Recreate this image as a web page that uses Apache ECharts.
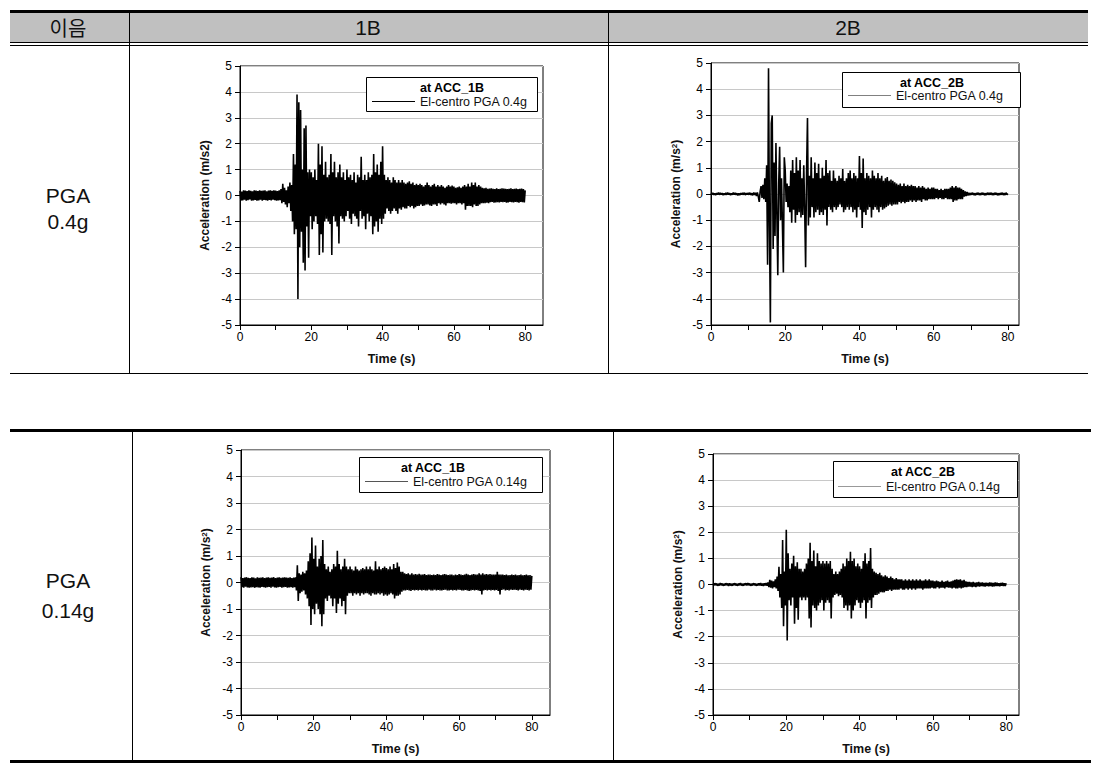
<!DOCTYPE html>
<html>
<head>
<meta charset="utf-8">
<script src="https://cdn.jsdelivr.net/npm/echarts@6/dist/echarts.min.js"></script>
<style>
html,body{margin:0;padding:0;background:#fff;}
#c{width:1120px;height:775px;}
</style>
</head>
<body>
<div id="c"></div>
<script>
// ---------------- data ----------------
// sample step of the digitised traces (s); value i is at time i*dt
const dt = 0.25;
const timeTicks = [0, 10, 20, 30, 40, 50, 60, 70, 80];
const timeLabels = [0, 20, 40, 60, 80];
const accTicks = [-5, -4, -3, -2, -1, 0, 1, 2, 3, 4, 5];

const headerLabels = ['이음', '1B', '2B'];
const rowLabels = [['PGA', '0.4g'], ['PGA', '0.14g']];
const sensorTitles = ['at ACC_1B', 'at ACC_2B', 'at ACC_1B', 'at ACC_2B'];
const seriesNames = ['El-centro PGA 0.4g', 'El-centro PGA 0.4g', 'El-centro PGA 0.14g', 'El-centro PGA 0.14g'];

// ACC_1B, PGA 0.4g  (one row = 5 s)
const acc1B_04 = [
  0.18,-0.2,0.15,-0.19,0.2,-0.16,0.19,-0.2,0.17,-0.18, 0.2,-0.15,0.18,-0.2,0.16,-0.19,0.2,-0.17,0.19,-0.2,
  0.17,-0.19,0.2,-0.16,0.18,-0.2,0.19,-0.17,0.2,-0.18, 0.16,-0.2,0.19,-0.17,0.2,-0.19,0.18,-0.16,0.2,-0.18,
  0.19,-0.2,0.17,-0.19,0.2,-0.18,0.25,-0.3,0.45,-0.25, 0.3,-0.35,0.2,-0.45,0.35,-0.3,0.5,-0.6,0.4,-1.0,
  1.6,-1.5,1.2,-1.3,3.9,-4.0,3.6,-2.0,3.3,-1.4, 1.0,-2.6,2.6,-2.9,2.7,-1.2,0.9,-2.4,1.0,-0.8,
  0.9,-1.3,0.7,-1.0,1.0,-0.8,0.6,-1.1,2.0,-2.3, 1.2,-1.5,1.9,-2.2,0.8,-1.0,1.3,-0.9,0.7,-1.0,
  0.8,-1.1,1.6,-2.3,0.9,-0.8,1.3,-1.0,0.7,-1.2, 0.9,-1.85,1.2,-0.8,0.7,-0.9,0.9,-1.0,0.6,-0.8,
  1.0,-0.6,0.7,-0.9,0.8,-1.1,0.6,-0.7,0.9,-0.8, 0.5,-0.9,0.8,-1.2,0.7,-0.6,1.5,-0.9,0.6,-0.8,
  0.8,-1.3,0.6,-0.7,0.9,-1.0,0.7,-0.8,0.8,-1.5, 1.6,-1.2,0.9,-1.0,1.2,-1.4,0.8,-0.9,1.3,-1.1,
  1.9,-0.9,0.8,-0.7,0.6,-0.5,0.7,-0.6,0.6,-0.7, 0.5,-0.6,0.7,-0.5,0.6,-0.6,0.5,-0.7,0.6,-0.5,
  0.5,-0.55,0.6,-0.45,0.5,-0.5,0.45,-0.5,0.5,-0.4, 0.55,-0.45,0.45,-0.4,0.5,-0.5,0.4,-0.45,0.45,-0.4,
  0.4,-0.4,0.45,-0.35,0.4,-0.4,0.35,-0.38,0.4,-0.35, 0.5,-0.35,0.4,-0.38,0.35,-0.4,0.4,-0.35,0.45,-0.35,
  0.35,-0.4,0.4,-0.3,0.35,-0.35,0.4,-0.3,0.35,-0.35, 0.3,-0.38,0.35,-0.3,0.4,-0.3,0.35,-0.32,0.38,-0.3,
  0.35,-0.3,0.3,-0.35,0.32,-0.3,0.35,-0.3,0.3,-0.35, 0.35,-0.3,0.4,-0.55,0.35,-0.4,0.45,-0.4,0.35,-0.4,
  0.5,-0.45,0.4,-0.35,0.5,-0.4,0.35,-0.4,0.4,-0.35, 0.35,-0.3,0.3,-0.3,0.28,-0.3,0.3,-0.28,0.26,-0.3,
  0.27,-0.26,0.28,-0.25,0.26,-0.28,0.25,-0.27,0.28,-0.26, 0.25,-0.27,0.26,-0.25,0.28,-0.26,0.27,-0.25,0.26,-0.28,
  0.25,-0.27,0.26,-0.25,0.28,-0.26,0.25,-0.27,0.26,-0.25, 0.27,-0.26,0.25,-0.28,0.26,-0.25,0.27,-0.26,0.25,-0.27,
  0.2
];
// ACC_2B, PGA 0.4g
const acc2B_04 = [
  0.03,-0.02,0.04,-0.03,0.02,-0.04,0.03,-0.02,0.05,-0.03, 0.04,-0.02,0.03,-0.04,0.02,-0.03,0.04,-0.03,0.05,-0.02,
  0.03,-0.04,0.02,-0.03,0.05,-0.02,0.04,-0.03,0.03,-0.05, 0.02,-0.04,0.03,-0.02,0.04,-0.03,0.05,-0.04,0.03,-0.02,
  0.04,-0.03,0.05,-0.04,0.03,-0.05,0.06,-0.04,0.05,-0.08, 0.06,-0.1,-0.3,0.1,0.3,-0.15,0.35,-0.2,0.6,-0.3,
  1.1,-2.7,4.8,-1.2,-4.9,2.7,3.0,-2.1,1.2,-1.6, 1.95,-0.8,-3.1,0.4,1.8,-1.0,0.6,-1.2,-3.0,1.4,
  0.9,-0.3,0.4,-0.5,0.3,-0.7,0.9,-1.1,1.3,-0.6, 0.8,-1.1,1.4,-0.8,0.9,-0.7,1.3,-0.9,0.6,-0.8,
  1.1,-0.6,-2.8,0.8,2.9,-1.2,0.7,-0.9,1.4,-0.5, 0.6,-0.9,1.2,-0.7,0.8,-0.6,1.15,-0.8,0.6,-0.7,
  1.0,-0.8,0.7,-0.6,1.3,-1.2,0.8,-0.5,0.9,-0.6, 0.5,-0.7,0.9,-0.5,0.6,-0.6,0.5,-0.5,0.7,-0.4,
  0.6,-0.5,0.95,-0.7,0.5,-0.6,0.6,-0.5,0.8,-0.6, 0.9,-0.5,0.6,-0.7,0.8,-0.6,0.7,-0.9,0.6,-0.5,
  1.45,-0.6,0.8,-1.3,1.35,-0.7,0.6,-0.8,0.8,-0.6, 0.7,-0.5,0.6,-0.9,0.9,-0.6,0.7,-0.5,0.6,-0.6,
  0.8,-0.7,0.6,-0.5,0.7,-0.6,0.5,-0.55,0.6,-0.5, 0.65,-0.45,0.5,-0.4,0.55,-0.45,0.5,-0.4,0.45,-0.4,
  0.4,-0.4,0.35,-0.3,0.4,-0.35,0.3,-0.3,0.4,-0.35, 0.3,-0.3,0.35,-0.3,0.3,-0.25,0.35,-0.3,0.3,-0.25,
  0.3,-0.3,0.25,-0.25,0.3,-0.25,0.25,-0.3,0.3,-0.2, 0.25,-0.25,0.2,-0.25,0.25,-0.2,0.2,-0.2,0.25,-0.2,
  0.25,-0.2,0.2,-0.15,0.2,-0.2,0.15,-0.15,0.2,-0.2, 0.15,-0.2,0.2,-0.15,0.2,-0.2,0.2,-0.2,0.25,-0.2,
  0.3,-0.3,0.25,-0.25,0.3,-0.25,0.25,-0.2,0.25,-0.2, 0.2,-0.2,0.15,-0.1,0.1,-0.08,0.08,-0.06,0.05,-0.05,
  0.04,-0.03,0.05,-0.04,0.03,-0.05,0.04,-0.03,0.05,-0.04, 0.03,-0.04,0.05,-0.03,0.04,-0.05,0.03,-0.04,0.05,-0.03,
  0.04,-0.03,0.05,-0.04,0.03,-0.04,0.05,-0.03,0.04,-0.05, 0.03,-0.04,0.04,-0.03,0.05,-0.04,0.03,-0.04,0.05,-0.03,
  0.02
];
// ACC_1B, PGA 0.14g
const acc1B_014 = [
  0.2,-0.18,0.17,-0.2,0.19,-0.16,0.2,-0.19,0.18,-0.2, 0.17,-0.19,0.2,-0.18,0.19,-0.2,0.16,-0.18,0.2,-0.19,
  0.18,-0.2,0.19,-0.17,0.2,-0.18,0.17,-0.2,0.19,-0.18, 0.2,-0.17,0.18,-0.2,0.19,-0.16,0.2,-0.19,0.17,-0.2,
  0.19,-0.18,0.2,-0.17,0.18,-0.2,0.19,-0.18,0.2,-0.17, 0.19,-0.2,0.18,-0.19,0.2,-0.18,0.17,-0.2,0.19,-0.18,
  0.2,-0.3,0.65,-0.7,0.35,-0.4,0.3,-0.35,0.4,-0.3, 0.35,-0.45,0.45,-0.6,0.8,-0.9,1.1,-1.6,1.7,-1.0,
  0.9,-1.2,1.4,-0.8,0.6,-1.0,0.9,-1.2,1.0,-1.65, 1.6,-1.2,0.7,-0.6,0.5,-0.7,0.6,-0.5,0.4,-0.6,
  0.5,-0.9,0.7,-0.6,0.6,-1.15,1.2,-0.8,0.7,-0.6, 0.5,-0.9,0.6,-0.7,0.9,-1.2,0.6,-0.5,0.5,-0.4,
  0.6,-0.4,0.5,-0.5,0.45,-0.4,0.6,-0.45,0.5,-0.4, 0.45,-0.5,0.5,-0.4,0.55,-0.45,0.5,-0.4,0.6,-0.4,
  0.5,-0.45,0.6,-0.5,0.5,-0.4,0.45,-0.45,0.8,-0.45, 0.5,-0.4,0.6,-0.45,0.5,-0.4,0.55,-0.5,0.6,-0.45,
  0.55,-0.5,0.5,-0.45,0.6,-0.4,0.5,-0.45,0.7,-0.6, 0.55,-0.5,0.75,-0.5,0.6,-0.45,0.4,-0.35,0.4,-0.3,
  0.35,-0.3,0.32,-0.28,0.35,-0.3,0.3,-0.32,0.35,-0.28, 0.3,-0.3,0.32,-0.28,0.3,-0.3,0.33,-0.28,0.3,-0.3,
  0.3,-0.28,0.32,-0.3,0.28,-0.3,0.3,-0.27,0.3,-0.3, 0.28,-0.3,0.3,-0.27,0.28,-0.3,0.32,-0.28,0.3,-0.3,
  0.28,-0.3,0.3,-0.28,0.32,-0.27,0.3,-0.3,0.28,-0.3, 0.3,-0.28,0.3,-0.3,0.27,-0.28,0.3,-0.3,0.28,-0.27,
  0.32,-0.28,0.3,-0.3,0.28,-0.3,0.3,-0.28,0.33,-0.3, 0.3,-0.32,0.28,-0.3,0.3,-0.28,0.32,-0.3,0.3,-0.28,
  0.3,-0.3,0.35,-0.32,0.3,-0.45,0.35,-0.3,0.3,-0.28, 0.32,-0.3,0.3,-0.28,0.32,-0.3,0.3,-0.28,0.3,-0.3,
  0.3,-0.28,0.4,-0.32,0.3,-0.45,0.3,-0.28,0.3,-0.26, 0.28,-0.3,0.3,-0.28,0.27,-0.3,0.28,-0.27,0.3,-0.28,
  0.28,-0.27,0.3,-0.28,0.27,-0.3,0.28,-0.27,0.3,-0.28, 0.27,-0.3,0.28,-0.27,0.3,-0.28,0.27,-0.3,0.28,-0.27,
  0.25
];
// ACC_2B, PGA 0.14g
const acc2B_014 = [
  0.03,-0.04,0.05,-0.03,0.04,-0.05,0.03,-0.04,0.06,-0.03, 0.04,-0.05,0.03,-0.04,0.05,-0.03,0.04,-0.06,0.05,-0.04,
  0.03,-0.05,0.04,-0.03,0.05,-0.04,0.03,-0.05,0.04,-0.03, 0.06,-0.04,0.03,-0.05,0.04,-0.03,0.05,-0.04,0.06,-0.03,
  0.04,-0.05,0.03,-0.04,0.05,-0.03,0.04,-0.05,0.03,-0.04, 0.05,-0.04,0.06,-0.05,0.04,-0.06,0.05,-0.04,0.06,-0.05,
  0.08,-0.1,0.18,-0.12,0.15,-0.15,0.12,-0.1,0.2,-0.15, 0.3,-0.25,0.68,-0.5,0.4,-0.9,1.7,-1.6,0.5,-0.8,
  2.1,-2.15,1.2,-0.6,0.6,-0.8,0.8,-0.5,1.1,-1.5, 0.7,-0.9,0.85,-1.35,0.6,-0.5,0.6,-0.6,0.5,-0.5,
  0.6,-0.6,0.8,-0.5,1.0,-1.3,1.6,-1.65,0.9,-0.8, 1.3,-0.9,0.7,-1.0,1.2,-0.8,0.9,-0.7,0.8,-0.6,
  0.9,-1.0,0.8,-0.7,0.9,-0.6,0.8,-0.7,0.9,-1.3, 0.6,-0.5,0.4,-0.4,0.5,-0.35,0.4,-0.45,0.5,-0.4,
  0.6,-0.5,0.8,-0.9,0.7,-0.8,1.0,-1.0,0.9,-0.8, 1.25,-1.3,0.9,-1.0,1.0,-0.8,0.7,-0.6,0.8,-0.7,
  0.7,-0.9,0.6,-0.7,0.9,-0.6,1.2,-1.3,0.8,-0.7, 0.9,-0.6,1.4,-0.9,0.6,-0.5,0.5,-0.4,0.45,-0.4,
  0.4,-0.35,0.45,-0.3,0.35,-0.3,0.3,-0.3,0.35,-0.25, 0.3,-0.25,0.25,-0.2,0.3,-0.25,0.25,-0.2,0.2,-0.2,
  0.25,-0.2,0.2,-0.2,0.2,-0.15,0.2,-0.2,0.15,-0.2, 0.2,-0.15,0.15,-0.2,0.2,-0.15,0.15,-0.2,0.2,-0.15,
  0.15,-0.2,0.2,-0.15,0.15,-0.15,0.2,-0.15,0.15,-0.2, 0.15,-0.15,0.2,-0.15,0.15,-0.15,0.2,-0.15,0.15,-0.12,
  0.15,-0.15,0.12,-0.15,0.15,-0.1,0.12,-0.15,0.1,-0.12, 0.15,-0.12,0.1,-0.15,0.12,-0.1,0.15,-0.12,0.1,-0.12,
  0.12,-0.15,0.15,-0.12,0.18,-0.15,0.2,-0.15,0.18,-0.12, 0.2,-0.15,0.15,-0.12,0.18,-0.1,0.12,-0.1,0.1,-0.08,
  0.1,-0.08,0.08,-0.1,0.1,-0.08,0.07,-0.1,0.08,-0.07, 0.1,-0.08,0.07,-0.06,0.08,-0.07,0.06,-0.08,0.07,-0.06,
  0.06,-0.07,0.08,-0.06,0.07,-0.08,0.06,-0.07,0.08,-0.06, 0.07,-0.06,0.05,-0.07,0.06,-0.05,0.07,-0.06,0.05,-0.06,
  0.05
];
const traces = [acc1B_04, acc2B_04, acc1B_014, acc2B_014];

// ---------------- layout (pixels) ----------------
const FONT = '"Liberation Sans", Arial, sans-serif';
const panels = [
  { grid: {left: 240, top: 66, width: 303, height: 259}, xMax: 85, sup: false,
    box: [366, 77, 171, 34], title: [452, 81], leg: [372, 102], legColor: '#000' },
  { grid: {left: 711, top: 63, width: 308, height: 262}, xMax: 83, sup: true,
    box: [842, 72, 178, 35], title: [932, 76], leg: [848, 96], legColor: '#808080' },
  { grid: {left: 241, top: 450, width: 309, height: 265}, xMax: 85, sup: true,
    box: [359, 457, 183, 35], title: [433, 461], leg: [365, 482], legColor: '#555' },
  { grid: {left: 713, top: 454, width: 306, height: 261}, xMax: 83.5, sup: true,
    box: [833, 461, 184, 36], title: [923, 465], leg: [838, 487], legColor: '#999' }
];

const chart = echarts.init(document.getElementById('c'), null, {renderer: 'svg'});

const grids = [], xAxes = [], yAxes = [], series = [], legends = [], titles = [], elements = [];

panels.forEach((p, k) => {
  grids.push(Object.assign({show: true, borderColor: '#000', borderWidth: 1, backgroundColor: 'transparent'}, p.grid));
  xAxes.push({
    type: 'value', gridIndex: k, min: 0, max: p.xMax, interval: 10,
    name: 'Time (s)', nameLocation: 'middle', nameGap: 27,
    nameTextStyle: {fontFamily: FONT, fontSize: 12.5, fontWeight: 'bold', color: '#111'},
    axisLine: {show: true, onZero: false, lineStyle: {color: '#000', width: 1}},
    axisTick: {show: true, inside: false, length: 5, customValues: timeTicks, lineStyle: {color: '#000'}},
    axisLabel: {show: true, margin: 6, fontFamily: FONT, fontSize: 12, color: '#000',
      customValues: timeLabels,
      formatter: v => (timeLabels.indexOf(v) >= 0 ? String(v) : '')},
    splitLine: {show: false}
  });
  yAxes.push({
    type: 'value', gridIndex: k, min: -5, max: 5, interval: 1,
    name: p.sup ? 'Acceleration (m/s{sup|2})' : 'Acceleration (m/s2)',
    nameLocation: 'middle', nameGap: 29, nameRotate: 90,
    nameTextStyle: {fontFamily: FONT, fontSize: 12, fontWeight: 'bold', color: '#111',
      rich: {sup: {fontFamily: FONT, fontSize: 8, fontWeight: 'bold', color: '#111', verticalAlign: 'top'}}},
    axisLine: {show: true, onZero: false, lineStyle: {color: '#000', width: 1}},
    axisTick: {show: true, inside: false, length: 5, lineStyle: {color: '#000'}},
    axisLabel: {show: true, margin: 8, fontFamily: FONT, fontSize: 12, color: '#000',
      formatter: v => (accTicks.indexOf(v) >= 0 ? String(v) : '')},
    splitLine: {show: true, lineStyle: {color: '#c8c8c8', width: 1}}
  });
  series.push({
    type: 'line', name: seriesNames[k], xAxisIndex: k, yAxisIndex: k,
    data: traces[k].map((v, i) => [i * dt, v]),
    showSymbol: false, symbol: 'none', silent: true, clip: true, sampling: false,
    lineStyle: {color: '#000', width: 1.6, join: 'bevel'},
    itemStyle: {color: '#000'},
    emphasis: {disabled: true}
  });
  legends.push({
    data: [{name: seriesNames[k], itemStyle: {color: p.legColor}, icon: 'rect'}],
    left: p.leg[0], top: p.leg[1] - 7, padding: 0,
    itemWidth: 43, itemHeight: 1, selectedMode: false,
    textStyle: {fontFamily: FONT, fontSize: 12.5, color: '#111', padding: [0, 0, 0, 0]}
  });
  titles.push({
    text: sensorTitles[k], left: p.title[0], top: p.title[1], textAlign: 'center', padding: 0,
    textStyle: {fontFamily: FONT, fontSize: 12.5, fontWeight: 'bold', color: '#000'}
  });
  elements.push({
    type: 'rect', z: 3, silent: true,
    shape: {x: p.box[0] + 0.5, y: p.box[1] + 0.5, width: p.box[2], height: p.box[3]},
    style: {fill: '#fff', stroke: '#000', lineWidth: 1}
  });
});

// ---------------- table frame ----------------
function hline(x1, x2, y, w) {
  elements.push({type: 'rect', z: 1, silent: true, shape: {x: x1, y: y, width: x2 - x1, height: w}, style: {fill: '#000'}});
}
function vline(x, y1, y2) {
  elements.push({type: 'rect', z: 1, silent: true, shape: {x: x, y: y1, width: 1, height: y2 - y1}, style: {fill: '#000'}});
}
elements.push({type: 'rect', z: 0, silent: true, shape: {x: 10, y: 13, width: 1078, height: 29}, style: {fill: '#c0c0c0'}});
hline(10, 1088, 10, 3);
hline(10, 1088, 42, 1);
hline(10, 1088, 45, 1);
vline(129, 13, 374);
vline(608, 13, 374);
hline(10, 1088, 373, 1);

hline(10, 1091, 429, 3);
vline(132, 432, 761);
vline(613, 432, 761);
hline(10, 1091, 760, 3);

function label(text, x, y, size, fam) {
  elements.push({type: 'text', z: 5, silent: true, x: x, y: y,
    style: {text: text, fill: '#111', font: size + 'px ' + (fam || FONT), textAlign: 'center', textVerticalAlign: 'middle'}});
}
label(headerLabels[0], 68, 27, 20, '"Noto Sans CJK KR", sans-serif');
label(headerLabels[1], 368, 27, 21);
label(headerLabels[2], 848, 27, 21);
label(rowLabels[0][0], 68, 195, 21);
label(rowLabels[0][1], 68, 221, 21);
label(rowLabels[1][0], 68, 580, 21);
label(rowLabels[1][1], 68, 610, 21);

chart.setOption({
  animation: false,
  backgroundColor: '#fff',
  grid: grids,
  xAxis: xAxes,
  yAxis: yAxes,
  series: series,
  legend: legends,
  title: titles,
  graphic: {elements: elements}
});
</script>
</body>
</html>
